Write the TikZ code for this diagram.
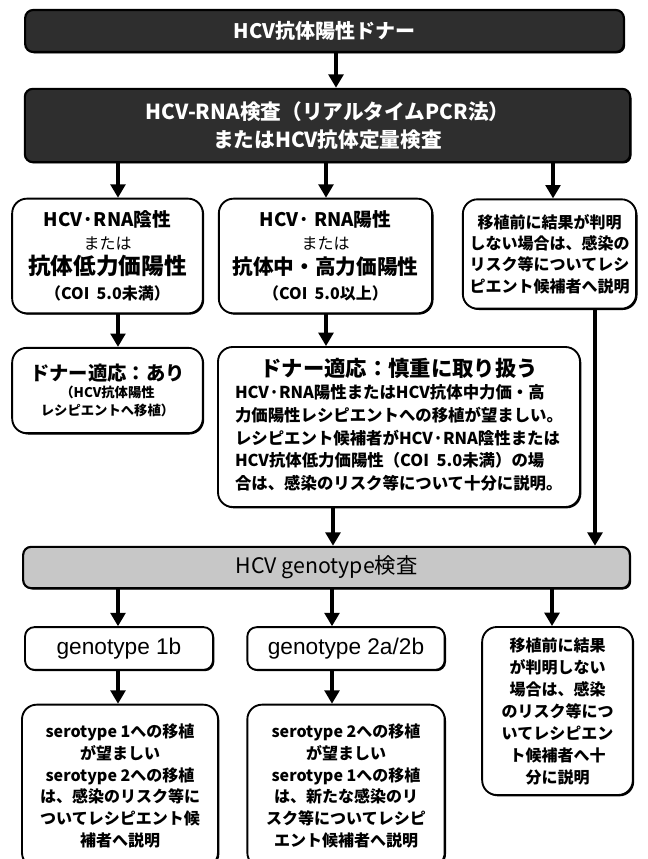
\documentclass[tikz,border=0pt]{standalone}
\usepackage{fontspec}
\setmainfont{Noto Sans CJK JP}
\newfontfamily\arialfont{Liberation Sans}
\usetikzlibrary{arrows.meta,shadows}
\begin{document}
\begin{tikzpicture}[x=0.75pt,y=-0.75pt,
  arr/.style={line width=3pt,-{Triangle[width=11pt,length=10pt]}},
  shad/.style={drop shadow={shadow xshift=1pt,shadow yshift=-1pt,opacity=1,fill=black}},
  wbox/.style={draw,line width=1.4pt,fill=white,rounded corners=11pt,align=center,inner sep=0pt,shad},
  sbox/.style={wbox,rounded corners=7pt},
  dbox/.style={draw,line width=1.6pt,fill=black!82,text=white,rounded corners=6pt,align=center,inner sep=0pt,shad},
  gbox/.style={draw,line width=1.6pt,fill=black!22,rounded corners=6pt,align=center,inner sep=0pt,shad}
]
\clip (0,0) rectangle (648,859);
\fill[white] (0,0) rectangle (648,859);

% top boxes
\node[dbox,minimum width=449pt,minimum height=31.5pt,font=\fontsize{15}{18}\selectfont\bfseries] (b1) at (324.5,31) {HCV抗体陽性ドナー};
\node[dbox,minimum width=454pt,minimum height=55pt,font=\fontsize{15.5}{21}\selectfont\bfseries] (b2) at (327.5,125.5)
  {HCV-RNA検査（リアルタイムPCR法）\\またはHCV抗体定量検査};

% row 3
\node[wbox,minimum width=143pt,minimum height=86pt,font=\fontsize{14}{19}\selectfont\bfseries] (r3a) at (107.5,256)
  {{\fontsize{14}{17}\selectfont HCV·RNA陰性}\\[-2pt]
   {\fontsize{12}{14}\selectfont\mdseries または}\\
   {\fontsize{17}{20}\selectfont 抗体低力価陽性}\\
   {\fontsize{12}{14}\selectfont （COI\ \ 5.0未満）}};
\node[wbox,minimum width=160pt,minimum height=86pt,font=\fontsize{14}{19}\selectfont\bfseries] (r3b) at (325.5,256)
  {{\fontsize{14}{17}\selectfont HCV· RNA陽性}\\[-2pt]
   {\fontsize{12}{14}\selectfont\mdseries または}\\
   {\fontsize{15.5}{20}\selectfont 抗体中・高力価陽性}\\
   {\fontsize{12}{14}\selectfont （COI\ \ 5.0以上）}};
\node[wbox,minimum width=130pt,minimum height=82pt,font=\fontsize{12}{16}\selectfont\bfseries] (r3c) at (549.5,254)
  {移植前に結果が判明\\しない場合は、感染の\\リスク等についてレシ\\ピエント候補者へ説明};

% row 4
\node[wbox,minimum width=143pt,minimum height=64pt,font=\fontsize{10}{13.5}\selectfont\bfseries] (r4d) at (107.5,390.5)
  {{\fontsize{14.5}{18}\selectfont ドナー適応：あり}\\[-1pt]
   （HCV抗体陽性\\レシピエントへ移植）};
\node[wbox,minimum width=271.5pt,minimum height=120pt,font=\fontsize{12.3}{17}\selectfont\bfseries] (r4e) at (399,427)
  {\begin{tabular}{@{}l@{}}
   \multicolumn{1}{@{}c@{}}{\fontsize{16}{20}\selectfont ドナー適応：慎重に取り扱う}\\
   HCV·RNA陽性またはHCV抗体中力価・高\\
   力価陽性レシピエントへの移植が望ましい。\\
   レシピエント候補者がHCV·RNA陰性または\\
   HCV抗体低力価陽性（COI\ \ 5.0未満）の場\\
   合は、感染のリスク等について十分に説明。
   \end{tabular}};

% genotype test
\node[gbox,minimum width=455pt,minimum height=31pt,font=\fontsize{16}{19}\selectfont] (gen) at (326.5,567.5) {HCV genotype検査};

% row 6
\node[sbox,minimum width=141pt,minimum height=32pt,font=\arialfont\fontsize{17}{20}\selectfont] (g1) at (119,648.5) {genotype 1b};
\node[sbox,minimum width=148pt,minimum height=32pt,font=\arialfont\fontsize{17}{20}\selectfont] (g2) at (346,648.5) {genotype 2a/2b};
\node[wbox,minimum width=113pt,minimum height=126pt,font=\fontsize{12}{16.5}\selectfont\bfseries] (r6c) at (557.5,711)
  {移植前に結果\\が判明しない\\場合は、感染\\のリスク等につ\\いてレシピエン\\ト候補者へ十\\分に説明};

% row 7
\node[wbox,minimum width=147pt,minimum height=122pt,font=\fontsize{12}{16.3}\selectfont\bfseries] (r7a) at (120,786)
  {serotype 1への移植\\が望ましい\\serotype 2への移植\\は、感染のリスク等に\\ついてレシピエント候\\補者へ説明};
\node[wbox,minimum width=148pt,minimum height=122pt,font=\fontsize{12}{16.3}\selectfont\bfseries] (r7b) at (346,786)
  {serotype 2への移植\\が望ましい\\serotype 1への移植\\は、新たな感染のリ\\スク等についてレシピ\\エント候補者へ説明};

% x positions of connectors
\coordinate (xa) at (118,0);
\coordinate (xb) at (326,0);
\coordinate (xc) at (553,0);
\coordinate (xm) at (333,0);
\coordinate (xr) at (595,0);
\coordinate (xl) at (332,0);
\coordinate (xq) at (552,0);
\coordinate (xt) at (336,0);

\draw[arr] (b1.south -| xt) -- (b2.north -| xt);
\draw[arr] (b2.south -| xa) -- (r3a.north -| xa);
\draw[arr] (b2.south -| xb) -- (r3b.north -| xb);
\draw[arr] (b2.south -| xc) -- (r3c.north -| xc);
\draw[arr] (r3a.south -| xa) -- (r4d.north -| xa);
\draw[arr] (r3b.south -| xb) -- (r4e.north -| xb);
\draw[arr] (r4e.south -| xm) -- (gen.north -| xm);
\draw[arr] (r3c.south -| xr) -- (gen.north -| xr);
\draw[arr] (gen.south -| xa) -- (g1.north -| xa);
\draw[arr] (gen.south -| xl) -- (g2.north -| xl);
\draw[arr] (gen.south -| xq) -- (r6c.north -| xq);
\draw[arr] (g1.south -| xa) -- (r7a.north -| xa);
\draw[arr] (g2.south -| xl) -- (r7b.north -| xl);
\end{tikzpicture}
\end{document}
